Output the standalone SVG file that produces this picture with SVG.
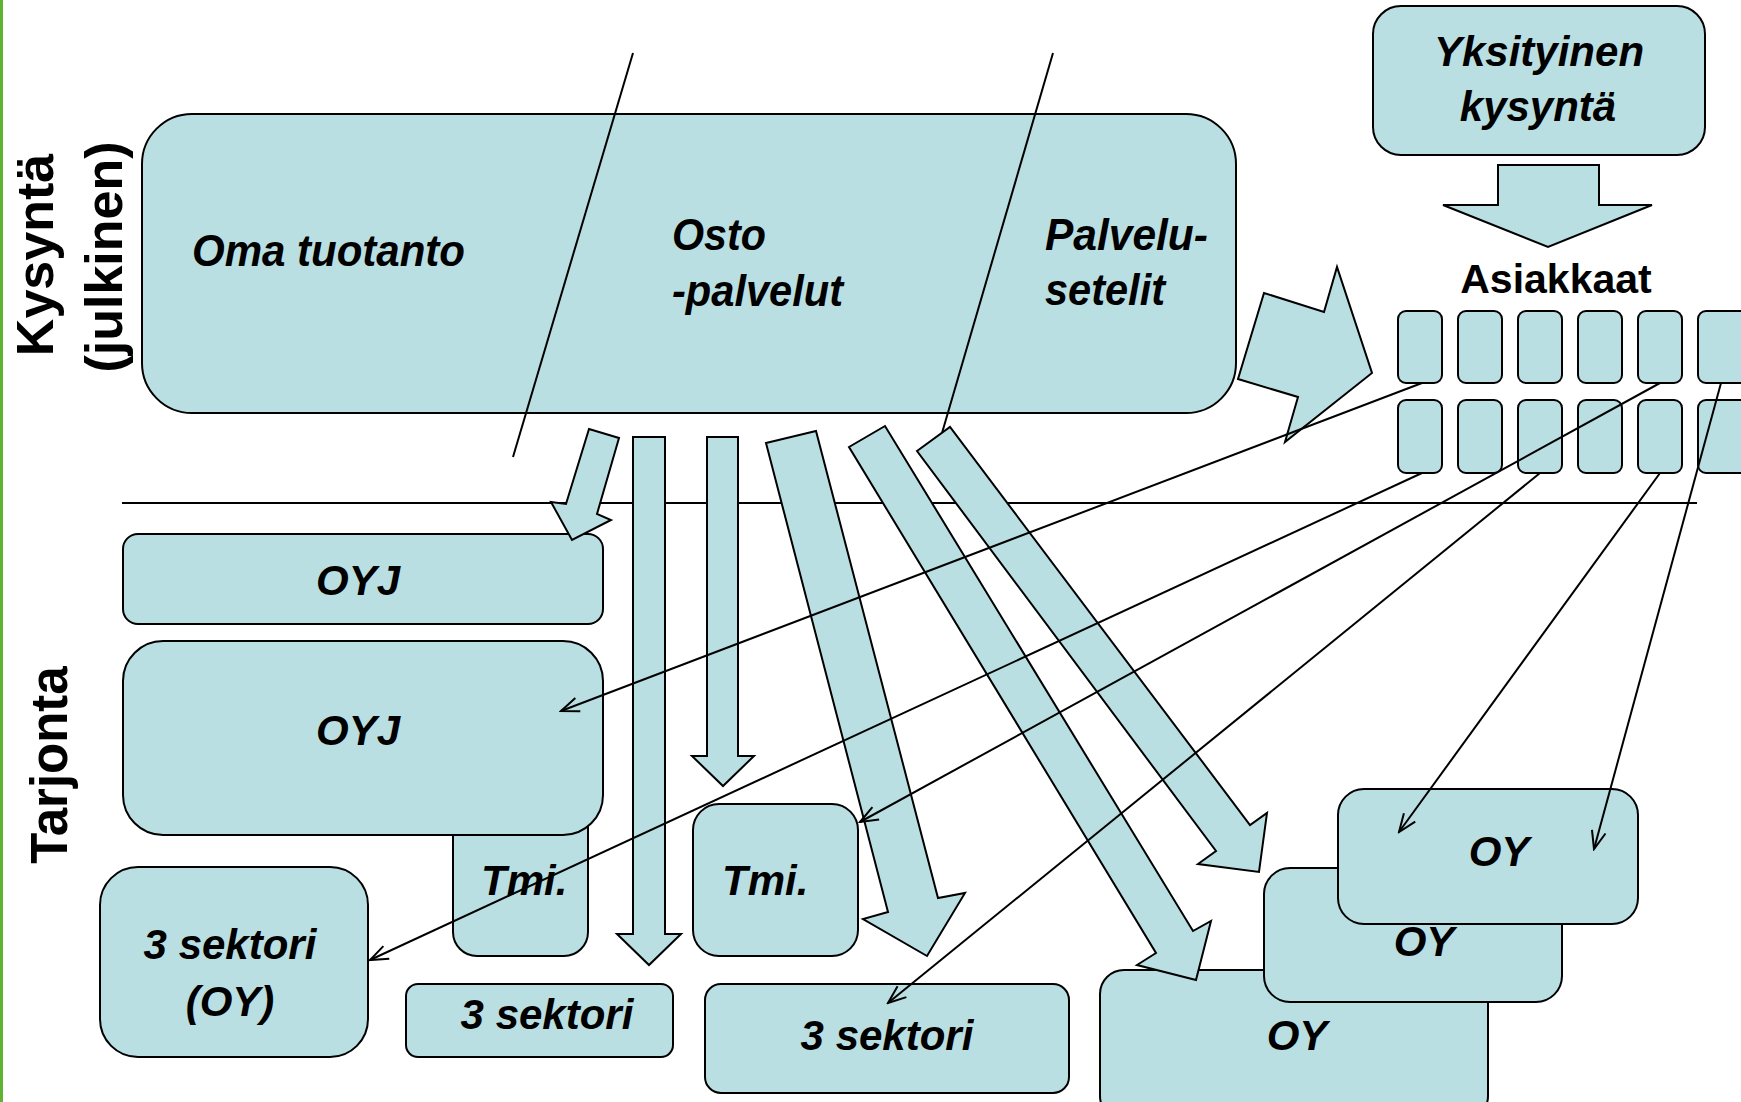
<svg xmlns="http://www.w3.org/2000/svg" width="1741" height="1102" viewBox="0 0 1741 1102">
<style>
.box{fill:#B9DFE2;stroke:#000;stroke-width:2}
.big{fill:#B9DFE2;stroke:#000;stroke-width:2}
.fat{fill:#B9DFE2;stroke:#000;stroke-width:2;stroke-linejoin:miter}
.thin{fill:none;stroke:#000;stroke-width:2}
.t{font-family:"Liberation Sans",Arial,sans-serif;font-weight:bold;font-style:italic;fill:#000}
.lbl{font-family:"Liberation Sans",Arial,sans-serif;font-weight:bold;fill:#000}
</style>
<defs>
<marker id="v" markerUnits="userSpaceOnUse" markerWidth="22" markerHeight="18" viewBox="0 0 22 18" refX="20" refY="9" orient="auto">
<path d="M2,2 L20,9 L2,16" fill="none" stroke="#000" stroke-width="2"/>
</marker>
</defs>
<rect x="0" y="0" width="1741" height="1102" fill="#fff"/>
<rect x="0" y="0" width="3" height="1102" fill="#5DB332"/>

<g id="side-labels">
<text class="lbl" font-size="52" text-anchor="middle" transform="translate(53,255) rotate(-90)">Kysyntä</text>
<text class="lbl" font-size="52" text-anchor="middle" transform="translate(122,257) rotate(-90)">(julkinen)</text>
<text class="lbl" font-size="51" text-anchor="middle" transform="translate(67,765) rotate(-90)">Tarjonta</text>
</g>

<g id="divider"><line x1="122" y1="503" x2="1697" y2="503" stroke="#000" stroke-width="2"/></g>

<g id="julkinen">
<rect class="big" x="142" y="114" width="1094" height="299" rx="50"/>
<text class="t" font-size="44" x="192" y="266" textLength="273" lengthAdjust="spacingAndGlyphs">Oma tuotanto</text>
<text class="t" font-size="44" x="672" y="250" textLength="94" lengthAdjust="spacingAndGlyphs">Osto</text>
<text class="t" font-size="44" x="672" y="306" textLength="171" lengthAdjust="spacingAndGlyphs">-palvelut</text>
<text class="t" font-size="44" x="1045" y="250" textLength="163" lengthAdjust="spacingAndGlyphs">Palvelu-</text>
<text class="t" font-size="44" x="1045" y="305" textLength="120" lengthAdjust="spacingAndGlyphs">setelit</text>
</g>
<g id="separators">
<line x1="633" y1="53" x2="513" y2="457" stroke="#000" stroke-width="2"/>
<line x1="1053" y1="53" x2="942" y2="433" stroke="#000" stroke-width="2"/>
</g>

<g id="yksityinen">
<rect class="box" x="1373" y="6" width="332" height="149" rx="28"/>
<text class="t" font-size="42" x="1539" y="66" text-anchor="middle">Yksityinen</text>
<text class="t" font-size="42" x="1538" y="121" text-anchor="middle">kysyntä</text>
</g>

<g id="asiakkaat">
<text class="lbl" font-size="41" x="1556" y="293" text-anchor="middle">Asiakkaat</text>
<rect class="box" x="1398" y="311" width="44" height="72" rx="8"/>
<rect class="box" x="1458" y="311" width="44" height="72" rx="8"/>
<rect class="box" x="1518" y="311" width="44" height="72" rx="8"/>
<rect class="box" x="1578" y="311" width="44" height="72" rx="8"/>
<rect class="box" x="1638" y="311" width="44" height="72" rx="8"/>
<rect class="box" x="1698" y="311" width="50" height="72" rx="8"/>
<rect class="box" x="1398" y="400" width="44" height="73" rx="8"/>
<rect class="box" x="1458" y="400" width="44" height="73" rx="8"/>
<rect class="box" x="1518" y="400" width="44" height="73" rx="8"/>
<rect class="box" x="1578" y="400" width="44" height="73" rx="8"/>
<rect class="box" x="1638" y="400" width="44" height="73" rx="8"/>
<rect class="box" x="1698" y="400" width="50" height="73" rx="8"/>
</g>

<g id="oyj-small">
<rect class="box" x="123" y="534" width="480" height="90" rx="15"/>
<text class="t" font-size="42" x="358" y="595" text-anchor="middle">OYJ</text>
</g>
<g id="tmi-left">
<rect class="box" x="453" y="800" width="135" height="156" rx="24"/>
<text class="t" font-size="42" x="481" y="895">Tmi.</text>
</g>
<g id="oyj-large">
<rect class="box" x="123" y="641" width="480" height="194" rx="40"/>
<text class="t" font-size="42" x="358" y="745" text-anchor="middle">OYJ</text>
</g>
<g id="sektori-oy">
<rect class="box" x="100" y="867" width="268" height="190" rx="38"/>
<text class="t" font-size="42" x="230" y="959" text-anchor="middle">3 sektori</text>
<text class="t" font-size="42" x="230" y="1016" text-anchor="middle">(OY)</text>
</g>
<g id="sektori-small">
<rect class="box" x="406" y="984" width="267" height="73" rx="12"/>
<text class="t" font-size="42" x="547" y="1029" text-anchor="middle">3 sektori</text>
</g>
<g id="tmi-right">
<rect class="box" x="693" y="804" width="165" height="152" rx="26"/>
<text class="t" font-size="42" x="722" y="895">Tmi.</text>
</g>
<g id="sektori-mid">
<rect class="box" x="705" y="984" width="364" height="109" rx="16"/>
<text class="t" font-size="42" x="887" y="1050" text-anchor="middle">3 sektori</text>
</g>
<g id="oy-bottom">
<rect class="box" x="1100" y="970" width="388" height="150" rx="24"/>
<text class="t" font-size="42" x="1297" y="1050" text-anchor="middle">OY</text>
</g>
<g id="oy-mid">
<rect class="box" x="1264" y="868" width="298" height="134" rx="26"/>
<text class="t" font-size="42" x="1424" y="956" text-anchor="middle">OY</text>
</g>
<g id="oy-top">
<rect class="box" x="1338" y="789" width="300" height="135" rx="26"/>
<text class="t" font-size="42" x="1499" y="866" text-anchor="middle">OY</text>
</g>

<g id="connectors">
<polygon class="fat" points="1238,379 1264,293 1324,312 1337,267 1372,373 1285,442 1298,397"/>
<polygon class="fat" points="1498,165 1599,165 1599,205 1652,205 1548,247 1443,205 1498,205"/>
<polygon class="fat" points="589,429 619,438 597,514 611,520 572,540 551,502 566,504"/>
<polygon class="fat" points="633,437 665,437 665,934 681,934 649,965 617,934 633,934"/>
<polygon class="fat" points="707,437 738,437 738,756 754,756 723,786 692,756 707,756"/>
<polygon class="fat" points="766,443 816,431 938,898 965,893 927,956 863,919 888,912"/>
<polygon class="fat" points="849,447 885,426 1193,931 1211,921 1196,980 1137,965 1156,953"/>
<polygon class="fat" points="917,451 950,427 1250,825 1267,813 1259,872 1198,864 1216,851"/>
<line class="thin" x1="1422" y1="383" x2="561" y2="711" marker-end="url(#v)"/>
<line class="thin" x1="1422" y1="473" x2="370" y2="960" marker-end="url(#v)"/>
<line class="thin" x1="1660" y1="383" x2="860" y2="822" marker-end="url(#v)"/>
<line class="thin" x1="1540" y1="473" x2="888" y2="1003" marker-end="url(#v)"/>
<line class="thin" x1="1660" y1="473" x2="1399" y2="832" marker-end="url(#v)"/>
<line class="thin" x1="1721" y1="383" x2="1594" y2="849" marker-end="url(#v)"/>
</g>
</svg>
